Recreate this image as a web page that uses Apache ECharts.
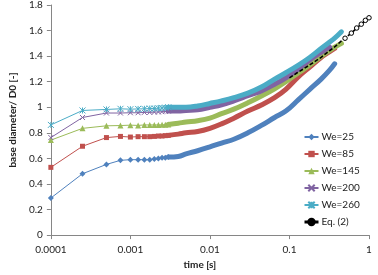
<!DOCTYPE html>
<html>
<head>
<meta charset="utf-8">
<script src="https://cdn.jsdelivr.net/npm/echarts@6/dist/echarts.min.js"></script>
<style>
  html, body { margin: 0; padding: 0; background: #fff; }
  #chart { width: 378px; height: 275px; }
</style>
</head>
<body>
<div id="chart"></div>
<script>
// time grids (s)
var tEarly = [0.0001, 0.00025, 0.0005, 0.00075, 0.001, 0.00125, 0.0015, 0.00175, 0.002, 0.00225, 0.0025, 0.00275, 0.003];
var tLate = [0.003, 0.004, 0.005, 0.007, 0.01, 0.014, 0.02, 0.03, 0.045, 0.065, 0.09, 0.13, 0.18, 0.25, 0.32, 0.37, 0.45];
var tEq = [0.1, 0.125, 0.15, 0.2, 0.25, 0.3, 0.35, 0.4, 0.45, 0.5, 0.6, 0.7, 0.8, 0.9, 1];

// base diameter / D0
var we25Early = [0.29, 0.48, 0.553, 0.585, 0.59, 0.59, 0.59, 0.59, 0.595, 0.6, 0.605, 0.605, 0.61];
var we85Early = [0.53, 0.695, 0.763, 0.772, 0.767, 0.77, 0.77, 0.77, 0.772, 0.775, 0.775, 0.778, 0.78];
var we145Early = [0.743, 0.835, 0.855, 0.857, 0.86, 0.858, 0.862, 0.862, 0.862, 0.862, 0.863, 0.864, 0.865];
var we200Early = [0.763, 0.92, 0.955, 0.955, 0.957, 0.957, 0.96, 0.96, 0.962, 0.963, 0.965, 0.967, 0.97];
var we260Early = [0.862, 0.975, 0.983, 0.988, 0.985, 0.987, 0.988, 0.99, 0.99, 0.993, 0.995, 0.997, 1.0];

var we25Late = [0.61, 0.615, 0.635, 0.66, 0.69, 0.72, 0.75, 0.8, 0.86, 0.92, 0.97, 1.06, 1.14, 1.22, 1.29, 1.34];
var we85Late = [0.78, 0.79, 0.8, 0.81, 0.835, 0.87, 0.915, 0.97, 1.02, 1.075, 1.14, 1.24, 1.315, 1.39, 1.435, 1.46];
var we145Late = [0.865, 0.875, 0.885, 0.895, 0.915, 0.95, 0.985, 1.035, 1.09, 1.145, 1.2, 1.27, 1.33, 1.4, 1.445, 1.47, 1.5];
var we200Late = [0.97, 0.97, 0.975, 0.98, 1.0, 1.02, 1.05, 1.09, 1.13, 1.18, 1.23, 1.3, 1.37, 1.43, 1.47];
var we260Late = [1.0, 1.0, 1.0, 1.01, 1.03, 1.05, 1.075, 1.11, 1.16, 1.22, 1.27, 1.33, 1.39, 1.46, 1.51, 1.54, 1.59];

var eqValues = [1.23, 1.27, 1.3, 1.35, 1.39, 1.43, 1.46, 1.49, 1.52, 1.54, 1.58, 1.62, 1.65, 1.68, 1.7];

var xTickLabels = ['0.0001', '0.001', '0.01', '0.1', '1'];
var yTickLabels = ['0', '0.2', '0.4', '0.6', '0.8', '1', '1.2', '1.4', '1.6', '1.8'];

var FONT = 'Lato';

function pairs(ts, vs) {
    var out = [];
    for (var i = 0; i < vs.length; i++) {
        out.push([ts[i], vs[i]]);
    }
    return out;
}

var groups = [
    {name: 'We=25', color: '#4F81BD', symbol: 'diamond', size: 6, early: we25Early, late: we25Late},
    {name: 'We=85', color: '#C0504D', symbol: 'rect', size: 5, early: we85Early, late: we85Late},
    {name: 'We=145', color: '#9BBB59', symbol: 'triangle', size: 6, early: we145Early, late: we145Late},
    {name: 'We=200', color: '#8064A2', symbol: 'path://M0,0L10,10M10,0L0,10', size: 5, early: we200Early, late: we200Late},
    {name: 'We=260', color: '#4BACC6', symbol: 'path://M0,0L10,10M10,0L0,10M5,0L5,10', size: 6, early: we260Early, late: we260Late}
];

var series = [];
groups.forEach(function (g) {
    // sparse early points: thin line with markers
    series.push({
        name: g.name,
        type: 'line',
        data: pairs(tEarly, g.early),
        symbol: g.symbol,
        symbolSize: g.size,
        showAllSymbol: true,
        lineStyle: {color: g.color, width: 1},
        itemStyle: {color: g.color, borderColor: g.color, borderWidth: g.symbol.indexOf('path') === 0 ? 1 : 0},
        animation: false
    });
    // dense markers later on look like a thick band
    series.push({
        name: g.name + ' ',
        type: 'line',
        data: pairs(tLate, g.late),
        showSymbol: false,
        smooth: 0.4,
        lineStyle: {color: g.color, width: 5, cap: 'round'},
        itemStyle: {color: g.color},
        animation: false
    });
});

// Eq. (2): open circles only show past the end of the bands
var eqData = pairs(tEq, eqValues).map(function (p) {
    return p[0] < 0.48 ? {value: p, symbolSize: 0} : {value: p};
});
series.push({
    name: 'Eq. (2)',
    type: 'line',
    data: eqData,
    symbol: 'circle',
    symbolSize: 4.5,
    showAllSymbol: true,
    lineStyle: {color: '#000', width: 1.6, type: [4, 2]},
    itemStyle: {color: '#fff', borderColor: '#000', borderWidth: 1},
    z: 5,
    animation: false
});

var chart = echarts.init(document.getElementById('chart'));
chart.setOption({
    animation: false,
    grid: {left: 40, right: 9, top: 0, bottom: 35},
    legend: {
        orient: 'vertical',
        left: 298,
        top: 127,
        itemWidth: 14,
        itemHeight: 8,
        itemGap: 7,
        data: ['We=25', 'We=85', 'We=145', 'We=200', 'We=260',
            {name: 'Eq. (2)', lineStyle: {type: 'solid', width: 3}, itemStyle: {color: '#000'}}],
        textStyle: {fontFamily: FONT, fontSize: 10, color: '#222', padding: [0, 0, 0, -2]}
    },
    xAxis: {
        type: 'log',
        logBase: 10,
        min: 0.0001,
        max: 1,
        name: 'time [s]',
        nameLocation: 'middle',
        nameGap: 22,
        nameTextStyle: {fontFamily: FONT, fontSize: 10, fontWeight: 'bold', color: '#222', padding: [0, 20, 0, 0]},
        axisLine: {lineStyle: {color: '#868686'}},
        axisTick: {show: true, length: 4, lineStyle: {color: '#868686'}},
        minorTick: {show: false},
        splitLine: {show: false},
        axisLabel: {
            fontFamily: FONT, fontSize: 10, color: '#222', margin: 10,
            formatter: function (v) {
                return xTickLabels[Math.round(Math.log10(v)) + 4];
            }
        }
    },
    yAxis: {
        type: 'value',
        min: 0,
        max: 1.8,
        interval: 0.2,
        name: 'base diameter/ D0 [-]',
        nameLocation: 'middle',
        nameGap: 32,
        nameTextStyle: {fontFamily: FONT, fontSize: 10, fontWeight: 'bold', color: '#222'},
        axisLine: {show: true, lineStyle: {color: '#868686'}},
        axisTick: {show: true, length: 4, lineStyle: {color: '#868686'}},
        splitLine: {show: false},
        axisLabel: {
            fontFamily: FONT, fontSize: 10, color: '#222', margin: 8,
            formatter: function (v) {
                return yTickLabels[Math.round(v / 0.2)];
            }
        }
    },
    series: series
});
</script>
</body>
</html>
